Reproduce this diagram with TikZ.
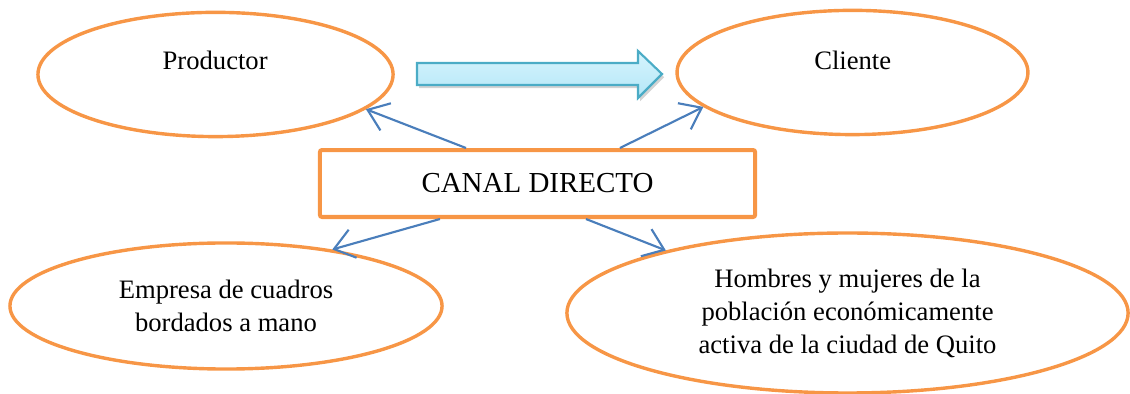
\documentclass[tikz,border=0pt]{standalone}
\usepackage{fontspec}
\setmainfont{Liberation Serif}
\usetikzlibrary{shapes.geometric,arrows.meta,shadows}
\definecolor{naranja}{HTML}{F79646}
\definecolor{azul}{HTML}{4A7EBB}
\definecolor{celeste}{HTML}{4BACC6}
\definecolor{cielo1}{HTML}{D6F4FD}
\definecolor{cielo2}{HTML}{B4E7F7}

\begin{document}
\begin{tikzpicture}[
    elipse/.style={draw=naranja, line width=1.6pt, ellipse, inner sep=0pt, align=center},
    flechita/.style={draw=azul, line width=1pt, -{Straight Barb[length=3.2mm,width=4.8mm]}},
    font=\fontsize{12.5}{15.5}\selectfont
]
    \useasboundingbox (0,0) rectangle (18.645,6.501);

    \node[elipse, minimum width=5.86cm, minimum height=2.05cm] (prod) at (3.556,5.272) {};
    \node (prodtxt) at (3.55,5.50) {Productor};
    \node[elipse, minimum width=5.79cm, minimum height=2.05cm] (cliente) at (14.066,5.305) {};
    \node (clientetxt) at (14.07,5.51) {Cliente};
    \node[elipse, minimum width=7.13cm, minimum height=2.08cm] (empresa) at (3.729,1.452)
        {Empresa de cuadros\\bordados a mano};
    \node[elipse, minimum width=9.26cm, minimum height=2.64cm] (hombres) at (13.984,1.3365)
        {Hombres y mujeres de la\\población económicamente\\activa de la ciudad de Quito};

    \node[draw=naranja, line width=1.9pt, rounded corners=1pt, minimum width=7.18cm,
        minimum height=1.105cm, font=\fontsize{13.6}{16}\selectfont] (dir) at (8.869,3.473)
        {CANAL DIRECTO};

    \path[draw=celeste, line width=1pt, top color=cielo1, bottom color=cielo2, line join=miter,
        drop shadow={shadow xshift=1pt, shadow yshift=-1.5pt, opacity=0.35}]
        (6.8805,5.4615) -- (10.527,5.4615) -- (10.527,5.6595) -- (10.923,5.28)
        -- (10.527,4.884) -- (10.527,5.0985) -- (6.8805,5.0985) -- cycle;

    \draw[flechita] ([xshift=-1.18cm]dir.north) -- (prod.-13.3);
    \draw[flechita] ([xshift=1.36cm]dir.north) -- (cliente.193.4);
    \draw[flechita] ([xshift=-1.61cm]dir.south) -- (empresa.28.2);
    \draw[flechita] ([xshift=0.80cm]dir.south) -- (hombres.161.1);
\end{tikzpicture}
\end{document}
